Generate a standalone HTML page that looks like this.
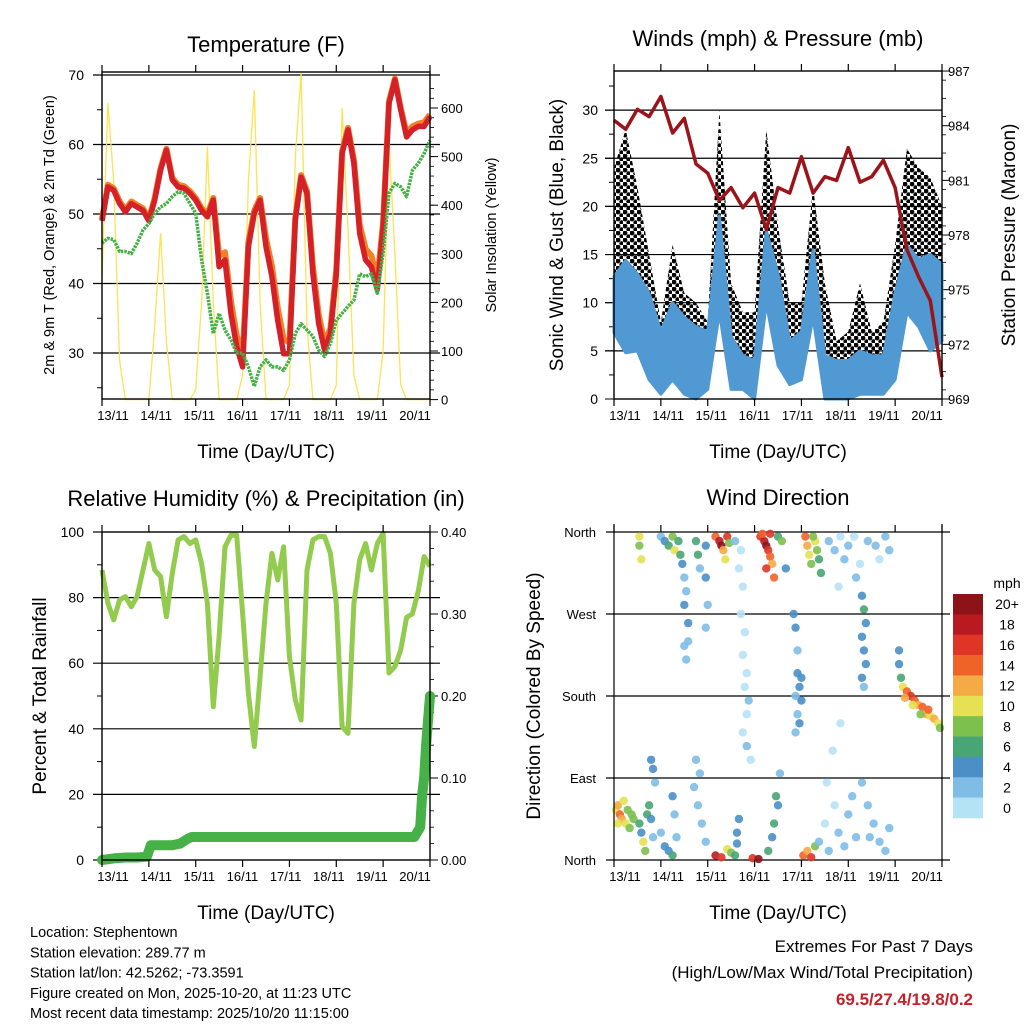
<!DOCTYPE html>
<html><head><meta charset="utf-8"><style>
html,body{margin:0;padding:0;background:#fff;}
svg{display:block;font-family:"Liberation Sans",sans-serif;}
</style></head><body>
<svg id="c" width="1024" height="1024" viewBox="0 0 1024 1024" xmlns="http://www.w3.org/2000/svg">
<defs>
<pattern id="dots" width="7" height="7" patternUnits="userSpaceOnUse">
<circle cx="2" cy="2" r="2.4" fill="#000"/>
<circle cx="5.5" cy="5.5" r="2.2" fill="#000"/>
</pattern>
</defs>
</svg>
<script>
// ---- shared time axis (hours since 13/11 00Z) ----
const dayLabels = ["13/11","14/11","15/11","16/11","17/11","18/11","19/11","20/11"];
const t3 = [0,3,6,9,12,15,18,21,24,27,30,33,36,39,42,45,48,51,54,57,60,63,66,69,72,75,78,81,84,87,90,93,96,99,102,105,108,111,114,117,120,123,126,129,132,135,138,141,144,147,150,153,156,159,162,165,168];
const t6 = [0,6,12,18,24,30,36,42,48,54,60,66,72,78,84,90,96,102,108,114,120,126,132,138,144,150,156,162,168];
// ---- temperature panel data ----
const temp2m = [49,53.9,53.4,51.5,50.3,51.5,51,50.5,49,52,56.3,59.2,54.9,53.9,53.7,53,52,50.5,49.6,52,42.4,43.4,35.7,30.9,28,45.3,50.1,52,45.3,41,34.7,29.9,29.9,49.1,55.3,52.9,41.4,34.2,30.4,32.8,41.4,58.7,62.1,57.3,47.2,43.4,42.4,39.1,48.2,65.9,69.3,65,61.1,62.1,62.6,62.6,64];
const temp9m = [49.3,54.2,53.7,51.8,50.6,51.8,51.3,50.8,49.3,52.3,56.6,59.4,55.2,54.2,54,53.3,52.3,50.8,50,52.3,44,44.5,37.5,32.5,29.5,46,50.5,52.3,46.5,42.5,36.5,32,31.5,49.5,55.6,53.3,42.5,35.5,31.5,33.5,42,59,62.4,57.8,48.5,45,44,40.5,48.8,66.2,69.5,65.3,61.6,62.6,63,63.2,64.3];
const dewpt = [45.8,46.5,46.3,44.6,44.6,44.3,45.8,47.7,48.6,50.1,51,51.5,52.5,53.2,53,51.5,50.1,43.4,38.6,32.8,35.7,33.3,31.9,30,30,28,25.2,28,29,28,28,27.5,29,32.8,34.2,33.3,32.4,30.4,29.5,31.4,34.7,35.7,36.7,37.6,41.4,41,41.4,38.6,44.3,53,54.4,53.9,52.5,56.3,57.3,58.7,60.6];
const solar = [250,610,450,80,0,0,0,0,0,150,343,120,0,0,0,0,20,200,520,200,0,0,0,0,50,450,637,200,0,0,0,0,30,500,672,150,0,0,0,0,30,600,350,50,0,0,0,0,100,534,300,30,0,0,0,0,0];
const tempTicks = [30,40,50,60,70];
const solarTicks = [0,100,200,300,400,500,600];
// ---- wind panel data ----
const windHi = [12.7,14.4,13,11,7,10,8.5,7.5,7,19,6.5,4.5,4,17.5,13,6,7,15.5,4.5,4,4,5,4.5,4.5,11,16,14.5,15,14];
const windLo = [6.9,4.8,5,2,0.5,2,0.5,0,1,9,1,1,0,10,3.5,1.5,2,8.5,0,0,0,0.5,0.5,0.5,2,9,7.5,5,6];
const gustHi = [24,28,22,15,8,16,11,10,8,30,12,9,9,28,18,10,10,22,12,6,7,12,7,8,16,26,24,23,20];
const pressure = [984.3,983.8,984.9,984.5,985.6,983.6,984.4,981.9,981.4,979.9,980.6,979.5,980.3,978.3,980.6,980.3,982.3,980.3,981.2,981,982.8,980.9,981.2,982.1,980.6,977.2,975.7,974.4,970.2];
const windTicks = [0,5,10,15,20,25,30];
const presTicks = [969,972,975,978,981,984,987];
// ---- humidity / precip data ----
const rh = [88.4,78.3,73.2,79.3,80.3,77.2,80.3,88.4,96.5,88.4,86.4,74.2,87.4,97.6,98.6,96.5,97.6,90.4,78.3,46.7,68.1,95.5,99,99,75.2,50.8,34.6,55.9,78.3,93.5,85.4,95.5,62,48.8,42.7,88.4,97.6,98.6,98.6,93.5,78.3,40.7,38.6,78.3,91.5,96.5,88.4,96.5,99.6,57,59,64,74,75,82,92.5,89.5];
const precipT = [0,6,12,18,23,25,36,40,44,46,100,160,163,164,165,166,167,168];
const precipV = [0,0.002,0.003,0.003,0.004,0.018,0.018,0.02,0.026,0.028,0.028,0.028,0.04,0.08,0.1,0.14,0.17,0.2];
const rhTicks = [0,20,40,60,80,100];
const prTicks = ["0.00","0.10","0.20","0.30","0.40"];
// ---- wind direction data ----
const wdTime = [13,13,14,24,26,28,30,31,33,34,35,36,37,36,38,38,36,37,42,43,44,47,47,48,47,52,54,55,56,57,58,59,62,65,64,66,65,67,66,68,67,69,68,66,68,70,75,77,78,79,80,81,78,82,76,80,84,86,88,92,93,94,94,95,93,96,94,95,93,96,98,99,100,101,103,104,105,106,102,110,113,116,118,120,123,126,130,134,136,139,141,124,115,127,128,129,127,128,129,127,128,116,112,146,146,147,148,150,152,154,156,158,160,162,164,166,167,149,153,157,161,1,2,3,4,5,6,7,8,9,10,2,13,14,15,16,17,18,19,20,21,20,19,24,26,28,30,32,31,30,41,43,45,47,44,42,52,55,58,60,62,63,63,64,71,74,79,81,82,84,83,85,97,99,101,103,105,108,110,113,115,118,120,122,124,109,127,130,133,136,139,141,131];
const wdDir = [355,345,330,355,350,345,355,340,350,335,325,310,295,280,260,240,235,220,350,335,320,345,310,280,255,355,350,345,340,330,355,348,350,340,320,300,270,250,225,205,190,175,160,140,125,110,355,350,345,340,333,325,320,310,358,358,355,350,320,270,255,230,205,190,180,175,160,150,140,200,355,345,335,325,350,340,330,315,355,350,340,355,330,345,355,325,350,345,330,355,340,310,300,290,275,260,245,230,215,200,190,150,120,230,215,200,190,185,180,175,170,168,160,158,155,150,145,178,170,160,165,55,60,50,45,65,40,55,35,50,45,40,40,30,20,10,50,60,45,25,85,100,110,30,15,10,5,25,50,70,80,60,40,20,95,110,5,3,12,8,5,18,30,45,2,1,10,25,40,60,70,95,5,10,3,15,20,40,10,60,30,15,50,70,25,85,85,60,40,20,10,35,25];
const wdSpeed = [10,8,10,2,4,7,9,10,7,6,4,3,2,4,4,3,2,2,6,6,3,4,4,3,3,14,18,20,12,10,16,8,2,1,1,1,1,1,1,1,1,2,1,1,2,1,16,18,20,16,14,12,16,14,14,16,6,8,4,4,4,3,4,4,3,4,3,4,3,4,14,12,10,8,10,8,6,7,8,2,2,1,2,2,1,1,2,2,1,2,3,2,1,4,6,4,5,4,4,4,3,1,1,4,5,6,10,14,16,14,12,14,12,10,12,10,8,12,10,9,14,10,12,14,12,10,10,8,9,8,8,10,6,5,10,8,6,6,4,3,3,4,4,3,4,4,6,2,3,4,2,2,2,3,2,2,18,16,10,8,6,4,4,4,16,20,6,4,6,4,6,2,14,12,16,8,2,1,2,1,2,2,2,2,3,1,2,2,2,3,2,2,2];
const dirLabels = ["North","East","South","West","North"];
const speedBins = ["0","2","4","6","8","10","12","14","16","18","20+"];
const binColors = ["#b6e2f6","#80bde6","#4a8fc6","#48a574","#7dc04e","#e6e152","#f6aa46","#ef6329","#de3527","#b91a21","#8d1318"];

const svg = document.getElementById('c');
const NS = "http://www.w3.org/2000/svg";
function mk(tag, attrs, parent){const e=document.createElementNS(NS,tag);for(const k in attrs)e.setAttribute(k,attrs[k]);(parent||svg).appendChild(e);return e;}
function txt(s, attrs, parent){const e=mk('text',attrs,parent);e.textContent=s;return e;}

function panel(name){
  const g=mk('g',{});
  
  
  return g;
}
function xAxis(g,L,R,B,T,name){
  const xs=h=>L+(R-L)*h/168;
  for(let i=0;i<8;i++){
    const x=xs(i*24);
    mk('line',{x1:x,y1:B,x2:x,y2:B+7,stroke:'#000','stroke-width':1.2},g);
    mk('line',{x1:x,y1:T,x2:x,y2:T-7,stroke:'#000','stroke-width':1.2},g);
    const lb=txt(dayLabels[i],{x:x+11-i*3.7,y:B+21,'font-size':13,'text-anchor':'middle'},g);
    
    
  }
  const tt=txt("Time (Day/UTC)",{x:(L+R)/2,y:B+59,'font-size':19,'text-anchor':'middle'},g);
  
  
  return xs;
}
function frame(g,L,R,T,B){mk('rect',{x:L,y:T,width:R-L,height:B-T,fill:'none',stroke:'#000','stroke-width':1.4},g);}
function pathOf(xv,yv){return xv.map((v,i)=>(i?'L':'M')+v.toFixed(1)+','+yv[i].toFixed(1)).join('');}

// ================= Panel 1: Temperature =================
(function(){
  const L=102,R=430,T=72,B=399;
  const g=panel('temperature-panel');
  const y=v=>353-(v-30)*6.95;
  const ys=v=>399.6-v*0.486;
  const xs=h=>L+(R-L)*h/168;
  const ttl=txt("Temperature (F)",{x:266,y:52,'font-size':22,'text-anchor':'middle'},g);
  
  
  tempTicks.forEach(v=>{
    mk('line',{x1:93,y1:y(v),x2:440,y2:y(v),stroke:'#000','stroke-width':1.2},g);
    txt(String(v),{x:84,y:y(v)+5,'font-size':14,'text-anchor':'end'},g);
  });
  for(let v=25;v<=65;v+=10) mk('line',{x1:97,y1:y(v),x2:L,y2:y(v),stroke:'#000'},g);
  solarTicks.forEach(v=>{
    mk('line',{x1:R,y1:ys(v),x2:R+8,y2:ys(v),stroke:'#000'},g);
    txt(String(v),{x:441,y:ys(v)+5,'font-size':13},g);
  });
  for(let v=20;v<660;v+=20) mk('line',{x1:R,y1:ys(v),x2:R+4,y2:ys(v),stroke:'#000','stroke-width':0.8},g);
  const sp=mk('path',{d:pathOf(t3.map(xs),solar.map(ys)),fill:'none',stroke:'#fde252','stroke-width':1.3},g);
  
  
  const op=mk('path',{d:pathOf(t3.map(xs),temp9m.map(y)),fill:'none',stroke:'#f47f25','stroke-width':6,'stroke-linejoin':'round'},g);
  
  
  const rp=mk('path',{d:pathOf(t3.map(xs),temp2m.map(y)),fill:'none',stroke:'#d42027','stroke-width':5.5,'stroke-linejoin':'round'},g);
  
  
  const gp=mk('path',{d:pathOf(t3.map(xs),dewpt.map(y)),fill:'none',stroke:'#44b045','stroke-width':3.5,'stroke-dasharray':'2.5 1','stroke-linejoin':'round'},g);
  
  
  frame(g,L,R,T,B);
  xAxis(g,L,R,B,T,'temperature-x-title');
  const yl=txt("2m & 9m T (Red, Orange) & 2m Td (Green)",{x:0,y:0,'font-size':14.5,'text-anchor':'middle',transform:'translate(54,235) rotate(-90)'},g);
  
  
  const yr=txt("Solar Insolation (Yellow)",{x:0,y:0,'font-size':14.5,'text-anchor':'middle',transform:'translate(496,235) rotate(-90)'},g);
  
  
})();

// ================= Panel 2: Winds & Pressure =================
(function(){
  const L=614,R=942,T=71,B=399;
  const g=panel('wind-panel');
  const y=v=>399-v*9.63;
  const yp=v=>399-(v-969)*18.22;
  const xs=h=>L+(R-L)*h/168;
  const ttl=txt("Winds (mph) & Pressure (mb)",{x:778,y:46,'font-size':22,'text-anchor':'middle'},g);
  
  
  windTicks.forEach(v=>{
    if(v>0) mk('line',{x1:605,y1:y(v),x2:R,y2:y(v),stroke:'#000','stroke-width':1.2},g);
    mk('line',{x1:605,y1:y(v),x2:L,y2:y(v),stroke:'#000'},g);
    txt(String(v),{x:598,y:y(v)+5,'font-size':14,'text-anchor':'end'},g);
  });
  for(let v=2.5;v<34;v+=5) mk('line',{x1:609,y1:y(v),x2:L,y2:y(v),stroke:'#000'},g);
  presTicks.forEach(v=>{
    mk('line',{x1:R,y1:yp(v),x2:R+8,y2:yp(v),stroke:'#000'},g);
    txt(String(v),{x:948,y:yp(v)+5,'font-size':13},g);
  });
  for(let v=969.5;v<987;v+=1) mk('line',{x1:R,y1:yp(v),x2:R+4,y2:yp(v),stroke:'#000','stroke-width':0.8},g);
  const xv=t6.map(xs);
  const gd=pathOf(xv,gustHi.map(y))+pathOf(xv.slice().reverse(),windLo.map(y).reverse()).replace('M','L')+'Z';
  const gb=mk('path',{d:gd,fill:'url(#dots)'},g);
  
  
  const wd=pathOf(xv,windHi.map(y))+pathOf(xv.slice().reverse(),windLo.map(y).reverse()).replace('M','L')+'Z';
  const wb=mk('path',{d:wd,fill:'#5199d2',stroke:'#5199d2','stroke-width':3,'stroke-linejoin':'round'},g);
  
  
  const pp=mk('path',{d:pathOf(xv,pressure.map(yp)),fill:'none',stroke:'#9b1419','stroke-width':3.5,'stroke-linejoin':'round'},g);
  
  
  frame(g,L,R,T,B);
  xAxis(g,L,R,B,T,'wind-x-title');
  const yl=txt("Sonic Wind & Gust (Blue, Black)",{x:0,y:0,'font-size':19,'text-anchor':'middle',transform:'translate(563,235) rotate(-90)'},g);
  
  
  const yr=txt("Station Pressure (Maroon)",{x:0,y:0,'font-size':19,'text-anchor':'middle',transform:'translate(1015,235) rotate(-90)'},g);
  
  
})();

// ================= Panel 3: RH & precip =================
(function(){
  const L=102,R=430,T=532,B=860;
  const g=panel('humidity-panel');
  const y=v=>860-v*3.28;
  const yp=v=>860-v*820;
  const xs=h=>L+(R-L)*h/168;
  const ttl=txt("Relative Humidity (%) & Precipitation (in)",{x:266,y:506,'font-size':22,'text-anchor':'middle'},g);
  
  
  rhTicks.forEach(v=>{
    mk('line',{x1:93,y1:y(v),x2:(v>0&&v<100)?440:L,y2:y(v),stroke:'#000','stroke-width':1.2},g);
    txt(String(v),{x:84,y:y(v)+5,'font-size':14,'text-anchor':'end'},g);
  });
  for(let v=10;v<100;v+=20) mk('line',{x1:97,y1:y(v),x2:L,y2:y(v),stroke:'#000'},g);
  prTicks.forEach(s=>{
    const v=parseFloat(s);
    mk('line',{x1:R,y1:yp(v),x2:R+8,y2:yp(v),stroke:'#000'},g);
    txt(s,{x:441,y:yp(v)+5,'font-size':13},g);
  });
  for(let v=0.02;v<0.4;v+=0.02) mk('line',{x1:R,y1:yp(v),x2:R+4,y2:yp(v),stroke:'#000','stroke-width':0.8},g);
  const rp=mk('path',{d:pathOf(t3.map(xs),rh.map(y)),fill:'none',stroke:'#93cb4f','stroke-width':5,'stroke-linejoin':'round'},g);
  
  
  const pp=mk('path',{d:pathOf(precipT.map(xs),precipV.map(yp)),fill:'none',stroke:'#45b146','stroke-width':10,'stroke-linecap':'round','stroke-linejoin':'round'},g);
  
  
  frame(g,L,R,T,B);
  xAxis(g,L,R,B,T,'humidity-x-title');
  const yl=txt("Percent & Total Rainfall",{x:0,y:0,'font-size':19,'text-anchor':'middle',transform:'translate(46,696) rotate(-90)'},g);
  
  
})();

// ================= Panel 4: Wind direction =================
(function(){
  const L=614,R=942,T=532,B=860;
  const g=panel('wind-direction-panel');
  const y=d=>860-d/360*328;
  const xs=h=>L+(R-L)*h/168;
  const ttl=txt("Wind Direction",{x:778,y:505,'font-size':22,'text-anchor':'middle'},g);
  
  
  dirLabels.forEach((s,i)=>{
    const yy=y(i*90);
    mk('line',{x1:606,y1:yy,x2:950,y2:yy,stroke:'#000','stroke-width':1.2},g);
    txt(s,{x:596,y:yy+5,'font-size':13,'text-anchor':'end'},g);
  });
  wdTime.forEach((t,i)=>{
    const b=Math.min(10,Math.floor(wdSpeed[i]/2));
    const c=mk('circle',{cx:xs(t),cy:y(wdDir[i]),r:4.2,fill:binColors[b],'fill-opacity':0.9},g);
    
    
  });
  mk('line',{x1:L,y1:T-8,x2:L,y2:B,stroke:'#000','stroke-width':1.2},g);
  mk('line',{x1:R,y1:T-8,x2:R,y2:B,stroke:'#000','stroke-width':1.2},g);
  xAxis(g,L,R,B,T,'wind-direction-x-title');
  const yl=txt("Direction (Colored By Speed)",{x:0,y:0,'font-size':19,'text-anchor':'middle',transform:'translate(540,696) rotate(-90)'},g);
  
  
  const cb=mk('g',{},g);
  
  
  txt("mph",{x:1007,y:588,'font-size':14,'text-anchor':'middle'},cb);
  const h=(818-594)/11;
  for(let i=0;i<11;i++){
    const bi=10-i;
    mk('rect',{x:953,y:594+i*h,width:30,height:h+0.3,fill:binColors[bi]},cb);
    txt(speedBins[bi],{x:1007,y:594+i*h+h/2+5,'font-size':14,'text-anchor':'middle'},cb);
  }
})();

// ================= Footer text =================
(function(){
  const g=mk('g',{});
  
  
  const lines=["Location: Stephentown","Station elevation: 289.77 m","Station lat/lon: 42.5262; -73.3591","Figure created on Mon, 2025-10-20, at 11:23 UTC","Most recent data timestamp: 2025/10/20 11:15:00"];
  lines.forEach((s,i)=>txt(s,{x:30,y:937+i*20.3,'font-size':14.5},g));
  const g2=mk('g',{});
  
  
  txt("Extremes For Past 7 Days",{x:973,y:952,'font-size':17,'text-anchor':'end'},g2);
  txt("(High/Low/Max Wind/Total Precipitation)",{x:973,y:978,'font-size':17,'text-anchor':'end'},g2);
  txt("69.5/27.4/19.8/0.2",{x:973,y:1005,'font-size':17,'font-weight':'bold','text-anchor':'end',fill:'#c8202a'},g2);
})();
</script>
</body></html>
